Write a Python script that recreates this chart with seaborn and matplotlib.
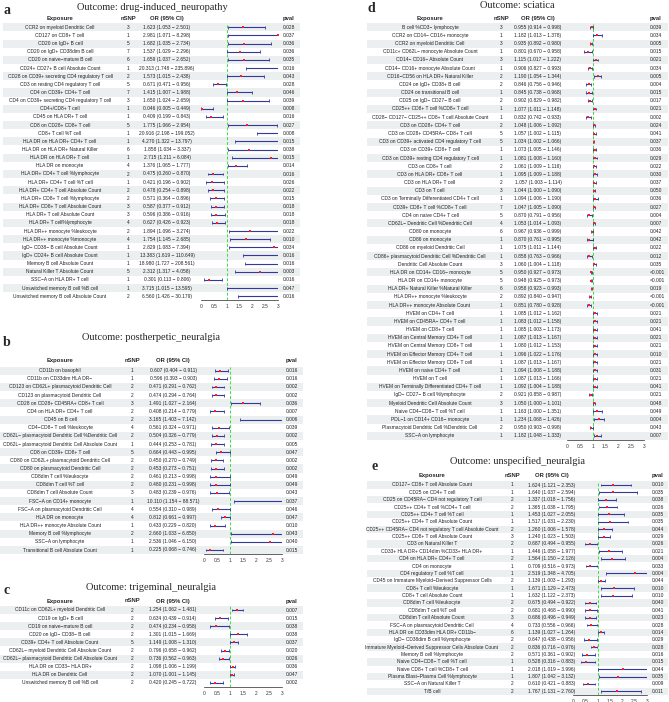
import numpy as np
import pandas as pd
import seaborn as sns
import matplotlib.pyplot as plt

# ---------------- data ----------------
# a: drug-induced_neuropathy
a_exposure = [
    "CCR2 on myeloid Dendritic Cell", "CD127 on CD8+ T cell", "CD20 on IgD+ B cell",
    "CD20 on IgD+ CD38dim B cell", "CD20 on naive−mature B cell", "CD24+ CD27+ B cell Absolute Count",
    "CD28 on CD39+ secreting CD4 regulatory T cell", "CD3 on resting CD4 regulatory T cell",
    "CD4 on CD39+ CD4+ T cell", "CD4 on CD39+ secreting CD4 regulatory T cell", "CD4+/CD8+ T cell",
    "CD45 on HLA DR+ T cell", "CD8 on CD28+ CD8+ T cell", "CD8+ T cell %T cell",
    "HLA DR on HLA DR+ CD4+ T cell", "HLA DR on HLA DR+ Natural Killer", "HLA DR on HLA DR+ T cell",
    "HLA DR on monocyte", "HLA DR+ CD4+ T cell %lymphocyte", "HLA DR+ CD4+ T cell %T cell",
    "HLA DR+ CD4+ T cell Absolute Count", "HLA DR+ CD8+ T cell %lymphocyte",
    "HLA DR+ CD8+ T cell Absolute Count", "HLA DR+ T cell Absolute Count", "HLA DR+ T cell%lymphocyte",
    "HLA DR++ monocyte %leukocyte", "HLA DR++ monocyte %monocyte", "IgD− CD38− B cell Absolute Count",
    "IgD+ CD24+ B cell Absolute Count", "Memory B cell Absolute Count", "Natural Killer T Absolute Count",
    "SSC−A on HLA DR+ T cell", "Unswitched memory B cell %B cell", "Unswitched memory B cell Absolute Count",
]
a_nsnp = [3, 1, 5, 7, 6, 1, 2, 5, 7, 3, 1, 1, 5, 1, 1, 6, 1, 4, 2, 1, 2, 2, 3, 3, 4, 2, 4, 1, 1, 1, 5, 1, 1, 2]
a_or = [1.623, 2.981, 1.682, 1.537, 1.659, 20.313, 1.573, 0.671, 1.415, 1.650, 0.046, 0.409, 1.775, 20.916,
        4.270, 1.858, 2.715, 1.376, 0.475, 0.421, 0.478, 0.571, 0.587, 0.596, 0.627, 1.894, 1.754, 2.829,
        13.383, 18.980, 2.312, 0.301, 3.715, 6.560]
a_lo = [1.053, 1.071, 1.035, 1.029, 1.037, 1.748, 1.015, 0.471, 1.007, 1.024, 0.005, 0.199, 1.066, 2.198,
        1.322, 1.034, 1.211, 1.065, 0.260, 0.196, 0.254, 0.364, 0.377, 0.386, 0.426, 1.096, 1.145, 1.083,
        1.619, 1.727, 1.317, 0.113, 1.015, 1.426]
a_hi = [2.501, 8.298, 2.734, 2.296, 2.652, 235.896, 2.438, 0.956, 1.988, 2.659, 0.449, 0.843, 2.954, 199.052,
        13.797, 3.337, 6.084, 1.777, 0.870, 0.902, 0.898, 0.896, 0.912, 0.916, 0.923, 3.274, 2.685, 7.394,
        110.649, 208.561, 4.058, 0.806, 13.595, 30.179]
a_pval = ["0.028", "0.037", "0.036", "0.036", "0.035", "0.016", "0.043", "0.028", "0.046", "0.039", "0.008",
          "0.016", "0.027", "0.008", "0.015", "0.038", "0.015", "0.014", "0.016", "0.026", "0.022", "0.015",
          "0.018", "0.018", "0.018", "0.022", "0.010", "0.034", "0.016", "0.016", "0.003", "0.016", "0.047",
          "0.016"]

# b: postherpetic_neuralgia
b_exposure = [
    "CD11b on basophil", "CD11b on CD33dim HLA DR−", "CD123 on CD62L+ plasmacytoid Dendritic Cell",
    "CD123 on plasmacytoid Dendritic Cell", "CD28 on CD28+ CD45RA+ CD8+ T cell", "CD4 on HLA DR+ CD4+ T cell",
    "CD45 on B cell", "CD4−CD8− T cell %leukocyte", "CD62L− plasmacytoid Dendritic Cell %Dendritic Cell",
    "CD62L− plasmacytoid Dendritic Cell Absolute Count", "CD8 on CD39+ CD8+ T cell",
    "CD80 on CD62L+ plasmacytoid Dendritic Cell", "CD80 on plasmacytoid Dendritic Cell",
    "CD8dim T cell %leukocyte", "CD8dim T cell %T cell", "CD8dim T cell Absolute Count",
    "FSC−A on CD14+ monocyte", "FSC−A on plasmacytoid Dendritic Cell", "HLA DR on monocyte",
    "HLA DR++ monocyte Absolute Count", "Memory B cell %lymphocyte", "SSC−A on lymphocyte",
    "Transitional B cell Absolute Count",
]
b_nsnp = [1, 1, 2, 2, 3, 2, 2, 4, 2, 1, 5, 2, 2, 2, 2, 3, 1, 4, 4, 1, 2, 1, 1]
b_or = [0.607, 0.596, 0.471, 0.474, 1.491, 0.408, 3.165, 0.561, 0.504, 0.444, 0.664, 0.450, 0.453, 0.461,
        0.480, 0.483, 10.110, 0.554, 0.812, 0.433, 2.660, 2.536, 0.225]
b_lo = [0.404, 0.393, 0.291, 0.294, 1.027, 0.214, 1.403, 0.324, 0.326, 0.253, 0.443, 0.270, 0.273, 0.213,
        0.231, 0.239, 1.154, 0.310, 0.661, 0.229, 1.033, 1.046, 0.068]
b_hi = [0.911, 0.903, 0.762, 0.764, 2.164, 0.779, 7.142, 0.971, 0.779, 0.781, 0.995, 0.749, 0.751, 0.998,
        0.998, 0.976, 88.571, 0.989, 0.997, 0.820, 6.850, 6.150, 0.746]
b_pval = ["0.016", "0.016", "0.002", "0.002", "0.036", "0.007", "0.006", "0.039", "0.002", "0.005", "0.047",
          "0.002", "0.002", "0.049", "0.049", "0.043", "0.037", "0.046", "0.047", "0.010", "0.043", "0.040",
          "0.015"]

# c: trigeminal_neuralgia
c_exposure = [
    "CD11c on CD62L+ myeloid Dendritic Cell", "CD19 on IgD+ B cell", "CD19 on naive−mature B cell",
    "CD20 on IgD− CD38− B cell", "CD39+ CD4+ T cell Absolute Count",
    "CD62L− myeloid Dendritic Cell Absolute Count", "CD62L− plasmacytoid Dendritic Cell Absolute Count",
    "HLA DR on CD33− HLA DR+", "HLA DR on Dendritic Cell", "Unswitched memory B cell %B cell",
]
c_nsnp = [2, 2, 2, 2, 5, 2, 2, 2, 2, 2]
c_or = [1.254, 0.634, 0.474, 1.301, 1.149, 0.796, 0.736, 1.098, 1.070, 0.420]
c_lo = [1.062, 0.439, 0.234, 1.015, 1.008, 0.658, 0.562, 1.006, 1.001, 0.245]
c_hi = [1.481, 0.914, 0.958, 1.669, 1.310, 0.962, 0.963, 1.199, 1.145, 0.722]
c_pval = ["0.007", "0.015", "0.038", "0.038", "0.037", "0.020", "0.026", "0.036", "0.047", "0.002"]

# d: sciatica
d_exposure = [
    "B cell %CD3− lymphocyte", "CCR2 on CD14− CD16+ monocyte", "CCR2 on myeloid Dendritic Cell",
    "CD11c+ CD62L− monocyte Absolute Count", "CD14− CD16− Absolute Count",
    "CD14− CD16+ monocyte Absolute Count", "CD16−CD56 on HLA DR+ Natural Killer",
    "CD24 on IgD+ CD38+ B cell", "CD24 on transitional B cell", "CD25 on IgD− CD27− B cell",
    "CD25++ CD8+ T cell %CD8+ T cell", "CD28− CD127− CD25++ CD8+ T cell Absolute Count",
    "CD3 on CD28+ CD4+ T cell", "CD3 on CD28+ CD45RA− CD8+ T cell",
    "CD3 on CD39+ activated CD4 regulatory T cell", "CD3 on CD39+ CD8+ T cell",
    "CD3 on CD39+ resting CD4 regulatory T cell", "CD3 on CD8+ T cell", "CD3 on HLA DR+ CD8+ T cell",
    "CD3 on HLA DR+ T cell", "CD3 on T cell", "CD3 on Terminally Differentiated CD4+ T cell",
    "CD39+ CD8+ T cell %CD8+ T cell", "CD4 on naive CD4+ T cell", "CD62L− Dendritic Cell %Dendritic Cell",
    "CD80 on monocyte", "CD86 on monocyte", "CD86 on myeloid Dendritic Cell",
    "CD86+ plasmacytoid Dendritic Cell %Dendritic Cell", "Dendritic Cell Absolute Count",
    "HLA DR on CD14+ CD16− monocyte", "HLA DR on CD14+ monocyte", "HLA DR+ Natural Killer %Natural Killer",
    "HLA DR++ monocyte %leukocyte", "HLA DR++ monocyte Absolute Count", "HVEM on CD4+ T cell",
    "HVEM on CD45RA− CD4+ T cell", "HVEM on CD8+ T cell", "HVEM on Central Memory CD4+ T cell",
    "HVEM on Central Memory CD8+ T cell", "HVEM on Effector Memory CD4+ T cell",
    "HVEM on Effector Memory CD8+ T cell", "HVEM on naive CD4+ T cell", "HVEM on T cell",
    "HVEM on Terminally Differentiated CD4+ T cell", "IgD− CD27− B cell %lymphocyte",
    "Myeloid Dendritic Cell Absolute Count", "Naive CD4−CD8− T cell %T cell",
    "PDL−1 on CD14+ CD16− monocyte", "Plasmacytoid Dendritic Cell %Dendritic Cell", "SSC−A on lymphocyte",
]
d_nsnp = [3, 1, 3, 1, 3, 1, 2, 2, 1, 2, 1, 1, 2, 5, 5, 1, 1, 2, 1, 2, 3, 1, 7, 5, 4, 6, 1, 1, 1, 3,
          5, 5, 6, 2, 1, 1, 1, 1, 1, 1, 1, 1, 1, 1, 1, 2, 3, 1, 1, 2, 1]
d_or = [0.955, 1.182, 0.935, 0.801, 1.115, 0.906, 1.190, 0.846, 0.845, 0.902, 1.077, 0.832, 1.048, 1.057,
        1.034, 1.073, 1.081, 1.061, 1.095, 1.057, 1.044, 1.094, 1.047, 0.870, 1.053, 0.967, 0.870, 1.075,
        0.858, 1.060, 0.950, 0.948, 0.958, 0.892, 0.851, 1.085, 1.083, 1.085, 1.087, 1.080, 1.096, 1.087,
        1.094, 1.087, 1.092, 0.921, 1.050, 1.163, 1.234, 0.950, 1.182]
d_lo = [0.914, 1.013, 0.892, 0.670, 1.017, 0.827, 1.054, 0.756, 0.738, 0.829, 1.011, 0.742, 1.006, 1.002,
        1.002, 1.005, 1.008, 1.009, 1.009, 1.003, 1.000, 1.006, 1.005, 0.791, 1.014, 0.936, 0.761, 1.011,
        0.763, 1.004, 0.927, 0.925, 0.923, 0.840, 0.780, 1.012, 1.012, 1.003, 1.013, 1.012, 1.022, 1.013,
        1.008, 1.013, 1.004, 0.858, 1.000, 1.000, 1.068, 0.903, 1.048]
d_hi = [0.998, 1.378, 0.980, 0.958, 1.222, 0.993, 1.344, 0.946, 0.968, 0.982, 1.148, 0.933, 1.092, 1.115,
        1.066, 1.146, 1.160, 1.116, 1.188, 1.114, 1.090, 1.190, 1.090, 0.956, 1.093, 0.999, 0.995, 1.144,
        0.966, 1.118, 0.973, 0.973, 0.993, 0.947, 0.928, 1.162, 1.158, 1.173, 1.167, 1.153, 1.176, 1.167,
        1.188, 1.166, 1.188, 0.987, 1.101, 1.351, 1.426, 0.998, 1.333]
d_pval = ["0.039", "0.034", "0.005", "0.015", "0.021", "0.034", "0.005", "0.004", "0.015", "0.017", "0.021",
          "0.002", "0.024", "0.041", "0.037", "0.036", "0.029", "0.022", "0.030", "0.037", "0.050", "0.036",
          "0.027", "0.004", "0.007", "0.042", "0.042", "0.022", "0.012", "0.035", "<0.001", "<0.001",
          "0.019", "<0.001", "<0.001", "0.021", "0.021", "0.041", "0.021", "0.021", "0.010", "0.021",
          "0.031", "0.021", "0.041", "0.021", "0.048", "0.049", "0.004", "0.043", "0.007"]

# e: unspecified_neuralgia
e_exposure = [
    "CD127− CD8+ T cell Absolute Count", "CD25 on CD4+ T cell", "CD25 on CD45RA− CD4 not regulatory T cell",
    "CD25++ CD4+ T cell %CD4+ T cell", "CD25++ CD4+ T cell %T cell", "CD25++ CD4+ T cell Absolute Count",
    "CD25++ CD45RA− CD4 not regulatory T cell Absolute Count", "CD25++ CD8+ T cell Absolute Count",
    "CD3 on Natural Killer T", "CD33+ HLA DR+ CD14dim %CD33+ HLA DR+", "CD4 on HLA DR+ CD4+ T cell",
    "CD4 on monocyte", "CD4 regulatory T cell %T cell", "CD45 on Immature Myeloid−Derived Suppressor Cells",
    "CD8+ T cell %leukocyte", "CD8+ T cell Absolute Count", "CD8dim T cell %leukocyte",
    "CD8dim T cell %T cell", "CD8dim T cell Absolute Count", "FSC−A on plasmacytoid Dendritic Cell",
    "HLA DR on CD33dim HLA DR+ CD11b−", "IgD− CD38dim B cell %lymphocyte",
    "Immature Myeloid−Derived Suppressor Cells Absolute Count", "Memory B cell %lymphocyte",
    "Naive CD4−CD8− T cell %T cell", "Naive CD8+ T cell %CD8+ T cell", "Plasma Blast−Plasma Cell %lymphocyte",
    "SSC−A on Natural Killer T", "T/B cell",
]
e_nsnp = [1, 1, 2, 2, 1, 1, 2, 3, 2, 1, 2, 1, 1, 2, 1, 1, 2, 2, 3, 4, 6, 2, 2, 2, 1, 1, 1, 2, 2]
e_or = [1.624, 1.640, 1.337, 1.365, 1.453, 1.517, 1.260, 1.240, 0.687, 1.446, 1.564, 0.709, 2.519, 1.139,
        1.671, 1.632, 0.675, 0.681, 0.686, 0.733, 1.139, 0.647, 0.836, 0.571, 0.528, 2.018, 1.807, 0.610, 1.767]
e_lo = [1.121, 1.037, 1.018, 1.038, 1.027, 1.031, 1.006, 1.023, 0.494, 1.058, 1.150, 0.516, 1.348, 1.003,
        1.129, 1.122, 0.494, 0.468, 0.496, 0.556, 1.027, 0.438, 0.716, 0.361, 0.316, 1.019, 1.042, 0.421, 1.131]
e_hi = [2.353, 2.594, 1.756, 1.795, 2.055, 2.230, 1.578, 1.503, 0.955, 1.977, 2.126, 0.973, 4.705, 1.293,
        2.473, 2.373, 0.922, 0.990, 0.949, 0.966, 1.264, 0.956, 0.976, 0.902, 0.883, 3.996, 3.132, 0.883, 2.760]
e_pval = ["0.010", "0.035", "0.038", "0.026", "0.035", "0.035", "0.044", "0.029", "0.026", "0.021", "0.004",
          "0.033", "0.004", "0.044", "0.010", "0.010", "0.040", "0.041", "0.023", "0.028", "0.014", "0.029",
          "0.028", "0.016", "0.015", "0.044", "0.035", "0.009", "0.011"]

# ---------------- style ----------------
sns.set_style("white")
plt.rcParams['font.family'] = ['Liberation Sans', 'DejaVu Sans']

W, H = 669, 702
BAND = "#ECEFF0"
CI_COL = "#33389E"
ROW_FS = 3.5
HEAD_FS = 4.2


def box(x0, y0, x1, y1):
    # pixel box -> figure fraction
    return [x0 / W, 1 - y1 / H, (x1 - x0) / W, (y1 - y0) / H]


def make_df(exposure, nsnp, orv, lo, hi, pval):
    df = pd.DataFrame({"exposure": exposure, "nsnp": nsnp, "or": orv, "lo": lo, "hi": hi, "pval": pval})
    df["ci"] = [f"{o:.3f} ({l:.3f} − {h:.3f})" for o, l, h in zip(df["or"], df["lo"], df["hi"])]
    df["row"] = np.arange(len(df))
    return df


def draw_panel(fig, df, letter, title, lay):
    n = len(df)
    step = lay["step"]
    top = lay["first"] - step / 2
    bot = lay["first"] + (n - 1) * step + step / 2
    bx0, bx1 = lay["band"]

    # table part
    tab = fig.add_axes(box(bx0, top, bx1, bot))
    tab.set_xlim(bx0, bx1)
    tab.set_ylim(n - 0.5, -0.5)
    tab.axis("off")
    for i in range(0, n, 2):
        tab.axhspan(i - 0.5, i + 0.5, color=BAND, lw=0)
    hy = -(lay["first"] - lay["header"]) / step
    kw = dict(va="center", fontsize=HEAD_FS, fontweight="bold", clip_on=False)
    tab.text(lay["exp_x"], hy, "Exposure", ha="center", **kw)
    tab.text(lay["nsnp_x"], hy, "nSNP", ha="center", **kw)
    tab.text(lay["or_x"], hy, "OR (95% CI)", ha="center", **kw)
    tab.text(lay["p_x"], hy, "pval", ha="left", **kw)
    for r in df.itertuples():
        tkw = dict(va="center", fontsize=ROW_FS, color="#222222")
        tab.text(lay["exp_x"], r.row, r.exposure, ha="center", **tkw)
        tab.text(lay["nsnp_x"], r.row, str(r.nsnp), ha="center", **tkw)
        tab.text(lay["or_x"], r.row, r.ci, ha="center", **tkw)
        tab.text(lay["p_x"], r.row, r.pval, ha="left", **tkw)

    # forest part
    fx0, fx1 = lay["axis"]
    fa = fig.add_axes(box(fx0, top, fx1, bot))
    fa.patch.set_alpha(0)
    fa.axvline(1, color="#3FDC3F", lw=0.7, ls=(0, (3, 2)), zorder=0)
    y = df["row"].to_numpy()
    lo = df["lo"].clip(0, 3).to_numpy()
    hi = df["hi"].clip(upper=3).to_numpy()
    fa.hlines(y, lo, hi, color=CI_COL, lw=0.8, zorder=2)
    m_lo = df["lo"].to_numpy() <= 3
    m_hi = df["hi"].to_numpy() <= 3
    fa.vlines(df["lo"].to_numpy()[m_lo], y[m_lo] - 0.18, y[m_lo] + 0.18, color=CI_COL, lw=0.6, zorder=2)
    fa.vlines(df["hi"].to_numpy()[m_hi], y[m_hi] - 0.18, y[m_hi] + 0.18, color=CI_COL, lw=0.6, zorder=2)
    pts = df[df["or"] <= 3]
    sns.scatterplot(data=pts, x="or", y="row", ax=fa, color="#FF1E1E", s=4, marker="s",
                    linewidth=0, zorder=3, legend=False)
    fa.set_xlim(0, 3)
    fa.set_ylim(n - 0.5, -0.5)
    fa.set_xlabel("")
    fa.set_ylabel("")
    fa.set_yticks([])
    ticks = np.arange(0, 3.01, 0.5)
    fa.set_xticks(ticks)
    fa.set_xticklabels(["0", "0.5", "1", "1.5", "2", "2.5", "3"])
    fa.tick_params(axis="x", length=2, width=0.5, labelsize=3.5, pad=1, colors="#333333")
    for s in ["left", "right", "top"]:
        fa.spines[s].set_visible(False)
    fa.spines["bottom"].set_linewidth(0.5)

    # title and letter
    fig.text(lay["title_x"] / W, 1 - lay["title_y"] / H, title, ha="center", va="center",
             family=["Liberation Serif", "DejaVu Serif"], fontsize=7.5)
    fig.text(lay["letter_x"] / W, 1 - lay["letter_y"] / H, letter, ha="left", va="center",
             family=["Liberation Serif", "DejaVu Serif"], fontsize=10, fontweight="bold")


fig = plt.figure(figsize=(W / 100, H / 100), dpi=100)

lay_a = dict(band=(3, 300), exp_x=60, nsnp_x=128, or_x=167, p_x=283, axis=(201, 278),
             header=18.3, first=27.3, step=8.15, title_x=152, title_y=7, letter_x=3, letter_y=11)
lay_b = dict(band=(0, 303), exp_x=60, nsnp_x=132, or_x=173, p_x=286, axis=(204, 282),
             header=361, first=370.7, step=8.15, title_x=151, title_y=338, letter_x=3, letter_y=342)
lay_c = dict(band=(0, 303), exp_x=60, nsnp_x=132, or_x=173, p_x=286, axis=(204, 282),
             header=601, first=610, step=8.1, title_x=151, title_y=587, letter_x=3, letter_y=591)
lay_d = dict(band=(367, 668), exp_x=430, nsnp_x=501, or_x=538, p_x=650, axis=(567, 644),
             header=18.3, first=27.3, step=8.17, title_x=517, title_y=6, letter_x=367, letter_y=9)
lay_e = dict(band=(367, 668), exp_x=432, nsnp_x=512, or_x=552, p_x=652, axis=(573, 647),
             header=475.7, first=485, step=7.37, title_x=517, title_y=461, letter_x=371, letter_y=466)

draw_panel(fig, make_df(a_exposure, a_nsnp, a_or, a_lo, a_hi, a_pval), "a",
           "Outcome: drug-induced_neuropathy", lay_a)
draw_panel(fig, make_df(b_exposure, b_nsnp, b_or, b_lo, b_hi, b_pval), "b",
           "Outcome: postherpetic_neuralgia", lay_b)
draw_panel(fig, make_df(c_exposure, c_nsnp, c_or, c_lo, c_hi, c_pval), "c",
           "Outcome: trigeminal_neuralgia", lay_c)
draw_panel(fig, make_df(d_exposure, d_nsnp, d_or, d_lo, d_hi, d_pval), "d",
           "Outcome: sciatica", lay_d)
draw_panel(fig, make_df(e_exposure, e_nsnp, e_or, e_lo, e_hi, e_pval), "e",
           "Outcome: unspecified_neuralgia", lay_e)

fig.savefig("out.png", dpi=100, facecolor="white")
